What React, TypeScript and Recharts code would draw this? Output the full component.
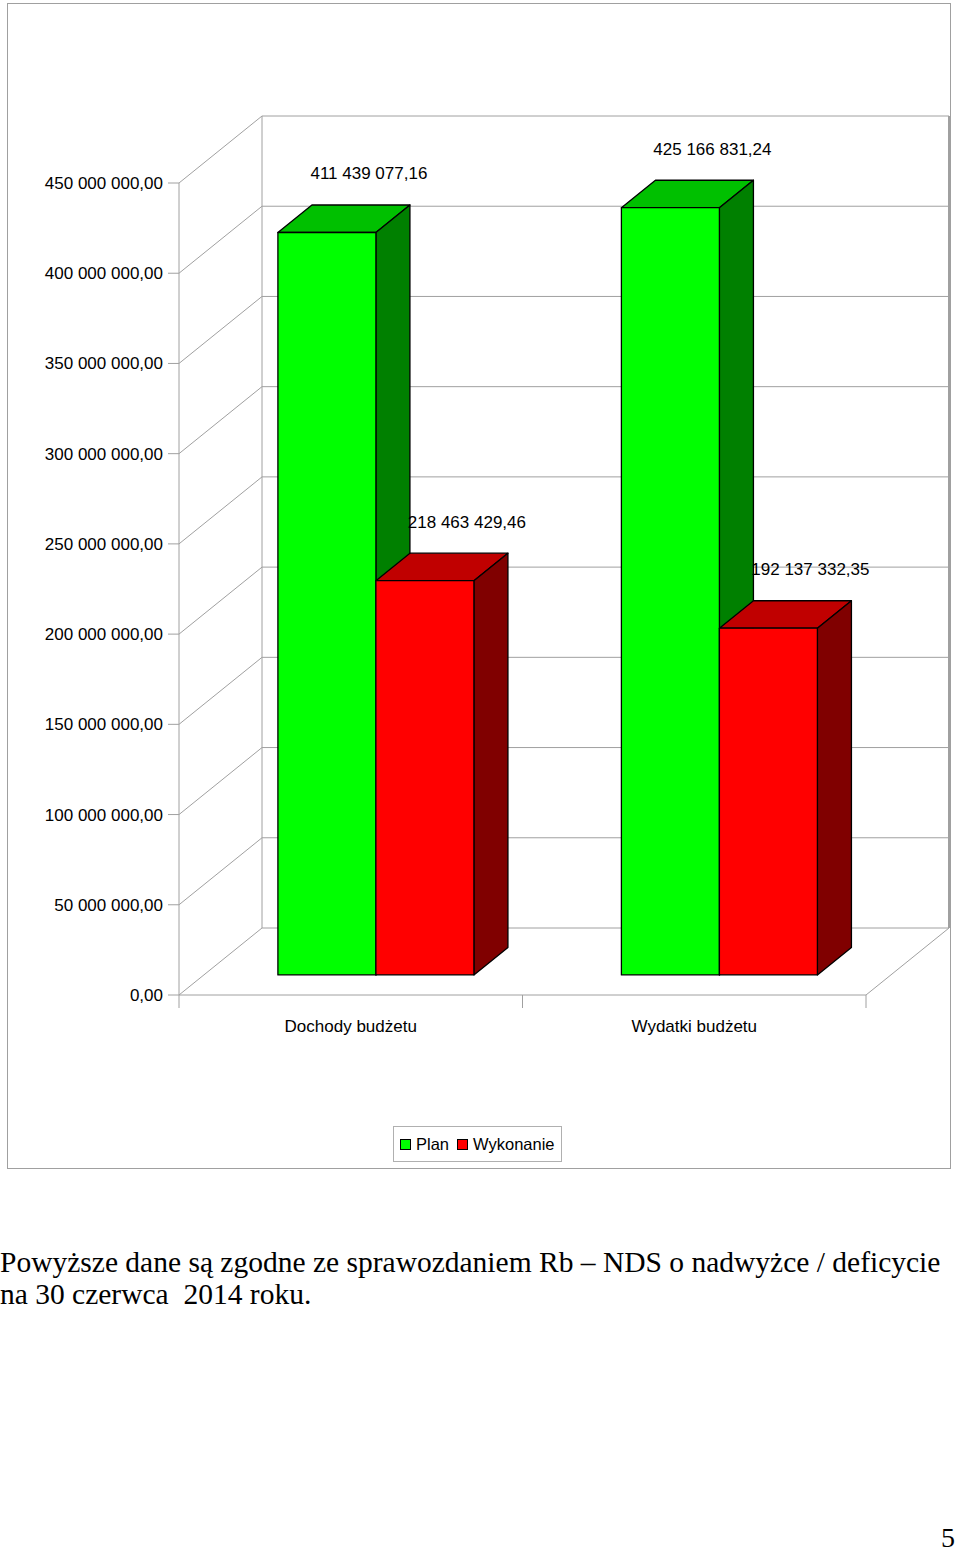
import React from 'react'
import { BarChart, Bar, XAxis, YAxis, CartesianGrid, ReferenceArea, Legend, LabelList } from 'recharts'

const categories = ['Dochody budżetu', 'Wydatki budżetu']
const plan = [411439077.16, 425166831.24]
const wykonanie = [218463429.46, 192137332.35]
const yTicks = [0, 50000000, 100000000, 150000000, 200000000, 250000000, 300000000, 350000000, 400000000, 450000000]

const data = categories.map((name, i) => ({ name, plan: plan[i], wykonanie: wykonanie[i] }))

const FONT = '"Liberation Sans", Arial, sans-serif'
const SERIF = '"Liberation Serif", "Times New Roman", serif'
const GRID = '#a0a0a0'
// depth of the whole 3D box, and where the bars sit inside it
const DX = 83
const DY = -67
const BAR_Z = 0.3
const BAR_DEPTH = 0.41

function fmt(v: number) {
  const [int, dec] = v.toFixed(2).split('.')
  return int.replace(/\B(?=(\d{3})+(?!\d))/g, ' ') + ',' + dec
}

const bar3d = (front: string, top: string, side: string) => (p: any) => {
  const { x, y, width: w, height: h } = p
  if (w == null || h == null) return <g />
  const fx = x + DX * BAR_Z
  const fy = y + DY * BAR_Z
  const dx = DX * BAR_DEPTH
  const dy = DY * BAR_DEPTH
  return (
    <g stroke="#000" strokeWidth={1.3} strokeLinejoin="round">
      <polygon points={`${fx},${fy} ${fx + dx},${fy + dy} ${fx + w + dx},${fy + dy} ${fx + w},${fy}`} fill={top} />
      <polygon points={`${fx + w},${fy} ${fx + w + dx},${fy + dy} ${fx + w + dx},${fy + h + dy} ${fx + w},${fy + h}`} fill={side} />
      <rect x={fx} y={fy} width={w} height={h} fill={front} />
    </g>
  )
}

const valueLabel = (p: any) => (
  <text x={p.x + DX * BAR_Z + p.width / 2 + 42} y={p.y + DY * BAR_Z - 53} textAnchor="middle"
    fontSize={17} fontFamily={FONT} fill="#000">{fmt(Number(p.value))}</text>
)

// back wall lines + left wall diagonals at each y tick
const gridLine = (p: any) => (
  <g key={`h-${p.index}`} stroke={GRID} strokeWidth={1}>
    <line x1={p.x1} y1={p.y1} x2={p.x1 + DX} y2={p.y1 + DY} />
    <line x1={p.x1 + DX} y1={p.y1 + DY} x2={p.x2 + DX} y2={p.y2 + DY} />
  </g>
)

// walls edges, floor right edge, category boundary ticks
const walls = (p: any) => {
  const { x, y, width, height } = p
  const n = categories.length
  return (
    <g stroke={GRID} strokeWidth={1} fill="none">
      <line x1={x + DX} y1={y + DY} x2={x + DX} y2={y + height + DY} />
      <line x1={x + width + DX} y1={y + DY} x2={x + width + DX} y2={y + height + DY} strokeWidth={2} />
      <line x1={x + width} y1={y + height} x2={x + width + DX} y2={y + height + DY} />
      {Array.from({ length: n + 1 }, (_, i) => (
        <line key={i} x1={x + (i * width) / n} y1={y + height} x2={x + (i * width) / n} y2={y + height + 13} />
      ))}
    </g>
  )
}

const legendContent = (p: any) => (
  <div style={{ display: 'inline-flex', alignItems: 'center', border: '1px solid #b0b0b0', height: 36, boxSizing: 'border-box', padding: '0 6px 0 6px', fontFamily: FONT, fontSize: 16.5, color: '#000', background: '#fff' }}>
    {(p.payload || []).map((e: any, i: number) => (
      <span key={i} style={{ display: 'inline-flex', alignItems: 'center', marginLeft: i ? 8 : 0 }}>
        <span style={{ width: 11, height: 11, boxSizing: 'border-box', border: '1px solid #000', background: e.color, marginRight: 5, display: 'inline-block' }} />
        {e.value}
      </span>
    ))}
  </div>
)

export default function App() {
  return (
    <div style={{ position: 'absolute', left: 0, top: 0, width: 960, height: 1550, background: '#fff' }}>
      <div style={{ position: 'absolute', left: 7, top: 3, width: 944, height: 1166, border: '1px solid #a0a0a0', boxSizing: 'border-box' }} />
      <div style={{ position: 'absolute', left: 8, top: 3 }}>
        <BarChart width={942} height={1165} data={data} margin={{ top: 180, right: 84, bottom: 133, left: 0 }} barGap={0} barSize={98}>
          <CartesianGrid vertical={false} horizontal={gridLine} />
          <ReferenceArea y1={0} y2={450000000} shape={walls} ifOverflow="visible" />
          <XAxis dataKey="name" height={40} tickLine={false} tickSize={0} tickMargin={25} interval={0}
            axisLine={{ stroke: GRID }} tick={{ fill: '#000', fontSize: 17, fontFamily: FONT }} />
          <YAxis width={171} domain={[0, 450000000]} ticks={yTicks} interval={0} tickFormatter={fmt}
            tickSize={11} tickMargin={5} axisLine={{ stroke: GRID }} tickLine={{ stroke: GRID }}
            tick={{ fill: '#000', fontSize: 17, fontFamily: FONT }} />
          <Bar dataKey="plan" name="Plan" fill="#00ff00" shape={bar3d('#00ff00', '#00c000', '#008000')} isAnimationActive={false}>
            <LabelList dataKey="plan" content={valueLabel} />
          </Bar>
          <Bar dataKey="wykonanie" name="Wykonanie" fill="#ff0000" shape={bar3d('#ff0000', '#c00000', '#800000')} isAnimationActive={false}>
            <LabelList dataKey="wykonanie" content={valueLabel} />
          </Bar>
          <Legend verticalAlign="middle" content={legendContent} wrapperStyle={{ left: 385, top: 1123, width: 'auto' }} />
        </BarChart>
      </div>
      <div style={{ position: 'absolute', left: 0, top: 1246, width: 960, fontFamily: SERIF, fontSize: 29.5, lineHeight: '32px', whiteSpace: 'pre', color: '#000' }}>
        {'Powyższe dane są zgodne ze sprawozdaniem Rb – NDS o nadwyżce / deficycie\nna 30 czerwca  2014 roku.'}
      </div>
      <div style={{ position: 'absolute', left: 941, top: 1524, fontFamily: SERIF, fontSize: 28, lineHeight: '28px', color: '#000' }}>5</div>
    </div>
  )
}
